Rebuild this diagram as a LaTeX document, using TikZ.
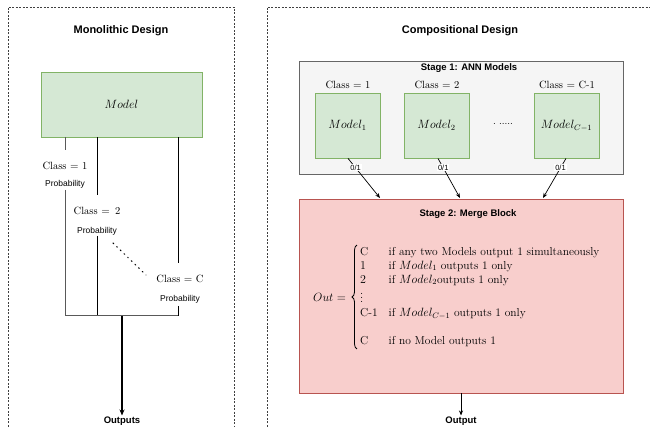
\documentclass[tikz,border=0pt]{standalone}
\usepackage{amsmath}
\usepackage{fontspec}
\setsansfont{Liberation Sans}
\usetikzlibrary{arrows.meta,decorations.pathreplacing}
\definecolor{gfill}{HTML}{D5E8D4}
\definecolor{gdraw}{HTML}{82B366}
\definecolor{sfill}{HTML}{F5F5F5}
\definecolor{sdraw}{HTML}{666666}
\definecolor{rfill}{HTML}{F8CECC}
\definecolor{rdraw}{HTML}{B85450}
\begin{document}
\begin{tikzpicture}[x=1pt,y=-1pt,
  frameline/.style={draw=black!75, line width=0.6pt, dash pattern=on 2pt off 1.5pt},
  title/.style={font=\sffamily\bfseries\fontsize{11}{13}\selectfont, inner sep=1pt},
  stitle/.style={font=\sffamily\bfseries\fontsize{9.5}{11}\selectfont, inner sep=1pt},
  greenbox/.style={draw=gdraw, fill=gfill, line width=0.8pt, font=\fontsize{12}{14}\selectfont},
  cls/.style={font=\fontsize{10.5}{12}\selectfont, inner sep=1pt},
  prob/.style={font=\sffamily\fontsize{8.5}{10}\selectfont, inner sep=1pt},
  wire/.style={draw=black, line width=0.6pt},
  gwire/.style={draw=black!65, line width=1pt},
  bigarrow/.style={draw=black, line width=1.3pt, -{Stealth[length=6pt,width=5pt]}},
  arrow/.style={draw=black, line width=0.7pt, -{Stealth[length=5pt,width=4pt]}},
  lbl/.style={font=\sffamily\fontsize{7.5}{9}\selectfont, fill=white, inner sep=0.8pt},
  outlbl/.style={font=\sffamily\bfseries\fontsize{9.5}{11}\selectfont, inner sep=1pt},
  eqtext/.style={font=\fontsize{11.5}{13}\selectfont, inner sep=0pt}
]
\useasboundingbox (0,0) rectangle (650,427);
\clip (0,0) rectangle (650,427);

% dashed frames
\draw[frameline] (8,430) -- (8,7) -- (234,7) -- (234,430);
\draw[frameline] (267,430) -- (267,7) -- (655,7);

% ---------- Monolithic ----------
\node[title] (mtitle) at (121,31) {Monolithic Design};
\node[greenbox, minimum width=161pt, minimum height=65pt] (model) at (121.5,104.5) {$Model$};

\node[cls] (c1) at (65,166) {Class $=$ 1};
\node[prob] (p1) at (65,184) {Probability};
\node[cls] (c2) at (97,211) {Class $=$ \,2};
\node[prob] (p2) at (97,231) {Probability};
\node[cls] (cC) at (180,279) {Class $=$ C};
\node[prob] (pC) at (180,299) {Probability};

\coordinate (j1) at (65,316);
\coordinate (j2) at (97,316);
\coordinate (j3) at (178,316);
\coordinate (jm) at (122,316);
\coordinate (t1) at (65,150);
\coordinate (t2) at (97,195);
\coordinate (t3) at (178,263);
\coordinate (b1) at (65,190);
\coordinate (b2) at (97,236);
\coordinate (b3) at (178,306);

\draw[gwire] (model.south -| t1) -- (t1);
\draw[gwire] (b1) -- (j1);
\draw[wire] (model.south -| t2) -- (t2);
\draw[wire] (b2) -- (j2);
\draw[wire] (model.south -| t3) -- (t3);
\draw[wire] (b3) -- (j3);
\draw[gwire] (j1) -- (j3);
\draw[black, line width=1.1pt, dash pattern=on 0.9pt off 4.2pt, line cap=round] (113,243) -- (146,275);

\node[outlbl] (outs) at (122,421) {Outputs};
\draw[bigarrow] (jm) -- (outs.north);

% ---------- Compositional ----------
\node[title] (ctitle) at (460,31) {Compositional Design};

\node[draw=sdraw, fill=sfill, line width=0.8pt, minimum width=324pt, minimum height=113pt] (s1) at (461,117.5) {};
\node[stitle] (s1t) at (469,68) {Stage 1: ANN Models};

\node[greenbox, minimum width=65pt, minimum height=65pt] (m1) at (347.5,125.5) {$Model_1$};
\node[greenbox, minimum width=65pt, minimum height=65pt] (m2) at (436.5,125.5) {$Model_2$};
\node[greenbox, minimum width=65pt, minimum height=65pt] (m3) at (566.5,125.5) {$Model_{C-1}$};
\node[cls] (k1) at (348,85) {Class $=$ 1};
\node[cls] (k2) at (437,85) {Class $=$ 2};
\node[cls] (k3) at (567,85) {Class $=$ C-1};
\node[font=\fontsize{10}{12}\selectfont, inner sep=0pt] (dots) at (503,124) {.\,\,.....};

\node[draw=rdraw, fill=rfill, line width=0.8pt, minimum width=324pt, minimum height=194pt] (s2) at (461,296) {};
\node[stitle] (s2t) at (468,214) {Stage 2: Merge Block};

\coordinate (e1) at (380,198);
\coordinate (e2) at (460,198);
\coordinate (e3) at (543,198);
\draw[arrow] (m1.south -| 348,0) -- node[lbl, pos=0.24] {0/1} (e1);
\draw[arrow] (m2.south -| 438,0) -- node[lbl, pos=0.24] {0/1} (e2);
\draw[arrow] (m3.south -| 566,0) -- node[lbl, pos=0.24] {0/1} (e3);

\node[eqtext, anchor=west] (outeq) at (313,297) {$Out =$};
\node[eqtext, anchor=west] (cases) at (360,297) {%
$\renewcommand{\arraystretch}{1.08}\begin{array}{@{}l@{\hspace{11pt}}l@{}}
\text{C} & \text{if any two Models output 1 simultaneously}\\
1 & \text{if } Model_1 \text{ outputs 1 only}\\
2 & \text{if } Model_2\text{outputs 1 only}\\
\vdots & \\
\text{C-1} & \text{if } Model_{C-1} \text{ outputs 1 only}\\
 & \\
\text{C} & \text{if no Model outputs 1}
\end{array}$};
\draw[line width=0.8pt, decorate, decoration={brace, amplitude=5pt}]
  ([xshift=-3pt]cases.south west) -- ([xshift=-3pt]cases.north west);

\node[outlbl] (outp) at (461,421) {Output};
\draw[arrow] (s2.south -| outp) -- (outp.north);
\end{tikzpicture}
\end{document}
